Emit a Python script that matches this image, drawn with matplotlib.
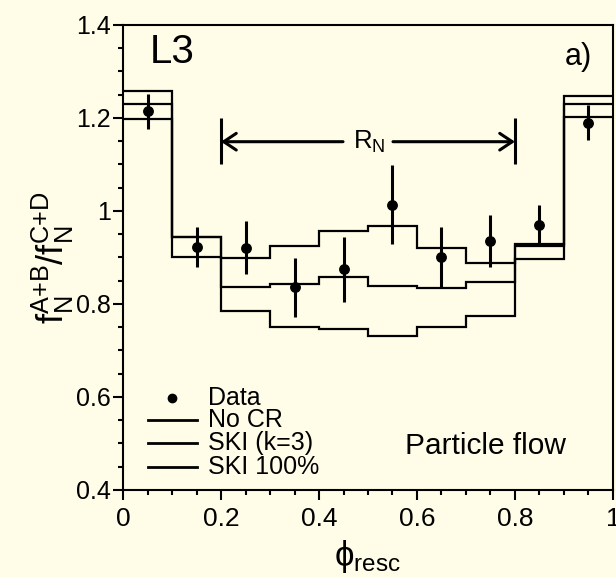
import matplotlib
matplotlib.use('Agg')
import matplotlib.pyplot as plt
from matplotlib.ticker import MultipleLocator, FuncFormatter

# bin edges in phi_resc
edges = [0.0, 0.1, 0.2, 0.3, 0.4, 0.5, 0.6, 0.7, 0.8, 0.9, 1.0]

# model curves (step histograms)
no_cr = [1.231, 0.900, 0.898, 0.925, 0.958, 0.967, 0.921, 0.888, 0.930, 1.230]
ski_k3 = [1.198, 0.943, 0.837, 0.844, 0.857, 0.838, 0.835, 0.848, 0.925, 1.203]
ski_100 = [1.257, 0.943, 0.785, 0.750, 0.746, 0.731, 0.750, 0.775, 0.897, 1.248]

# L3 data
data_x = [0.05, 0.15, 0.25, 0.35, 0.45, 0.55, 0.65, 0.75, 0.85, 0.95]
data_y = [1.214, 0.923, 0.921, 0.836, 0.875, 1.013, 0.900, 0.935, 0.969, 1.190]
data_err = [0.038, 0.043, 0.057, 0.063, 0.070, 0.085, 0.065, 0.056, 0.044, 0.037]

bg = '#fffde8'
plt.rcParams['font.family'] = ['Liberation Sans', 'DejaVu Sans']
plt.rcParams['mathtext.fontset'] = 'custom'
plt.rcParams['mathtext.rm'] = 'Liberation Sans'
plt.rcParams['mathtext.it'] = 'Liberation Sans'

fig = plt.figure(figsize=(6.16, 5.77), dpi=100, facecolor=bg)
ax = fig.add_axes([0.1997, 0.1508, 0.7954, 0.8059], facecolor=bg)

for vals in (no_cr, ski_k3, ski_100):
    ax.stairs(vals, edges, color='black', lw=1.6, baseline=None)

ax.errorbar(data_x, data_y, yerr=data_err, fmt='o', color='black',
            ms=6.8, elinewidth=2.2, capsize=0)

# R_N range marker
ax.vlines([0.2, 0.8], 1.101, 1.2, color='black', lw=2.2)
arr = dict(arrowstyle='->,head_length=0.45,head_width=0.3', lw=2.2,
           color='black', mutation_scale=20, shrinkA=0, shrinkB=0)
ax.annotate('', xy=(0.2, 1.149), xytext=(0.449, 1.149), arrowprops=arr)
ax.annotate('', xy=(0.8, 1.149), xytext=(0.551, 1.149), arrowprops=arr)
ax.text(0.502, 1.149, r'R$_{\mathrm{N}}$', fontsize=18.5, ha='center', va='center')

ax.set_xlim(0, 1)
ax.set_ylim(0.4, 1.4)

ax.xaxis.set_major_locator(MultipleLocator(0.2))
ax.xaxis.set_minor_locator(MultipleLocator(0.05))
ax.yaxis.set_major_locator(MultipleLocator(0.2))
ax.yaxis.set_minor_locator(MultipleLocator(0.05))
fmt = FuncFormatter(lambda v, p: '%g' % round(v, 2))
ax.xaxis.set_major_formatter(fmt)
ax.yaxis.set_major_formatter(fmt)
ax.tick_params(which='major', length=7, width=1.5, labelsize=18, pad=2)
ax.tick_params(which='minor', length=3.5, width=1.5)
ax.tick_params(axis='x', labelsize=19, pad=5)
for s in ax.spines.values():
    s.set_linewidth(1.5)

ax.set_xlabel('\u03d5$_{\\mathrm{resc}}$', fontsize=25, labelpad=5)
ax.set_ylabel(r'$\mathrm{f}_{\mathrm{N}}^{\mathrm{A{+}B}}/\mathrm{f}_{\mathrm{N}}^{\mathrm{C{+}D}}$',
              fontsize=26, labelpad=0)

ax.text(0.055, 0.983, 'L3', transform=ax.transAxes, fontsize=29, va='top', ha='left')
ax.text(0.957, 0.963, 'a)', transform=ax.transAxes, fontsize=22, va='top', ha='right')
ax.text(0.5755, 0.0946, 'Particle flow', transform=ax.transAxes, fontsize=21.5,
        va='center', ha='left')

# legend, drawn by hand to get the tight spacing
ax.plot([0.0994], [0.198], 'o', color='black', ms=6, transform=ax.transAxes)
for yy in (0.151, 0.101, 0.049):
    ax.plot([0.051, 0.151], [yy, yy], color='black', lw=2, transform=ax.transAxes)
labels = ['Data', 'No CR', 'SKI (k=3)', 'SKI 100%']
for lab, yy in zip(labels, (0.198, 0.151, 0.101, 0.049)):
    ax.text(0.173, yy, lab, transform=ax.transAxes, fontsize=18, va='center', ha='left')

plt.savefig('out.png', dpi=100, facecolor=bg)
